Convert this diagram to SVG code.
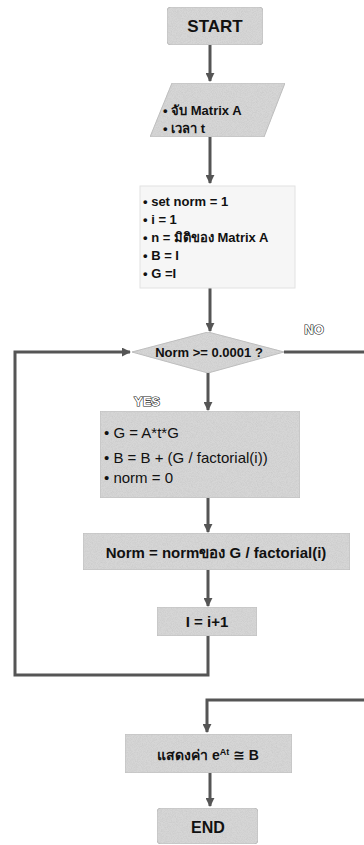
<svg xmlns="http://www.w3.org/2000/svg" width="364" height="845" viewBox="0 0 364 845">
<defs>
<marker id="ah" viewBox="0 0 10 10" refX="9" refY="5" markerWidth="3" markerHeight="3" orient="auto" markerUnits="strokeWidth">
<path d="M0,0 L10,5 L0,10 z" fill="#555"/>
</marker>
<filter id="grain" x="0" y="0" width="1" height="1">
<feTurbulence type="fractalNoise" baseFrequency="1.2" numOctaves="1" seed="3" result="n"/>
<feColorMatrix in="n" type="matrix" values="0 0 0 0 0.55  0 0 0 0 0.55  0 0 0 0 0.55  0 0 0 1.4 -0.55" result="g"/>
<feComposite in="g" in2="SourceGraphic" operator="in" result="gg"/>
<feMerge><feMergeNode in="SourceGraphic"/><feMergeNode in="gg"/></feMerge>
</filter>
</defs>
<style>
.box{fill:#d6d6d6;stroke:#bdbdbd;stroke-width:1}
.light{fill:#f6f6f6;stroke:#e2e2e2;stroke-width:1}
.t{font-family:"Liberation Sans","DejaVu Sans","Noto Sans",sans-serif;fill:#111}
.b{font-weight:bold}
.c{text-anchor:middle}
.ln{fill:none;stroke:#555;stroke-width:3}
.out{font-family:"Liberation Sans","DejaVu Sans",sans-serif;font-weight:bold;fill:#fff;stroke:#222;stroke-width:1.2;paint-order:stroke}
</style>
<rect width="364" height="845" fill="#fff"/>

<g id="connectors">
<line class="ln" x1="210" y1="45" x2="210" y2="81" marker-end="url(#ah)"/>
<line class="ln" x1="210" y1="137" x2="210" y2="183" marker-end="url(#ah)"/>
<line class="ln" x1="210" y1="288" x2="210" y2="331" marker-end="url(#ah)"/>
<line class="ln" x1="208" y1="373" x2="208" y2="410" marker-end="url(#ah)"/>
<line class="ln" x1="208" y1="498" x2="208" y2="532" marker-end="url(#ah)"/>
<line class="ln" x1="208" y1="570" x2="208" y2="606" marker-end="url(#ah)"/>
<polyline class="ln" points="208,636 208,675 15,675 15,352 130,352" marker-end="url(#ah)"/>
<line class="ln" x1="284" y1="352" x2="364" y2="352"/>
<polyline class="ln" points="364,700 207,700 207,732" marker-end="url(#ah)"/>
<line class="ln" x1="210" y1="773" x2="210" y2="806" marker-end="url(#ah)"/>
</g>

<g id="start">
<rect x="167" y="7" width="96" height="38" rx="4" class="box" stroke="#999" filter="url(#grain)"/>
<text x="215" y="32" class="t b c" font-size="17">START</text>
</g>

<g id="input">
<polygon points="172,83 285,83 264,137 150,137" class="box" filter="url(#grain)"/>
<text x="163" y="115" class="t b" font-size="13">• จับ Matrix A</text>
<text x="163" y="133" class="t b" font-size="13">• เวลา t</text>
</g>

<g id="init">
<rect x="140" y="186" width="155" height="102" class="light"/>
<text x="143" y="206" class="t b" font-size="13">• set norm = 1</text>
<text x="143" y="224" class="t b" font-size="13">• i = 1</text>
<text x="143" y="242" class="t b" font-size="13">• n = มิติของ Matrix A</text>
<text x="143" y="260" class="t b" font-size="13">• B = I</text>
<text x="143" y="278" class="t b" font-size="13">• G =I</text>
</g>

<g id="decision">
<polygon points="208,332 284,352 208,373 132,352" class="box" filter="url(#grain)"/>
<text x="209" y="357" class="t b c" font-size="13">Norm &gt;= 0.0001 ?</text>
</g>
<text x="314" y="334" class="out c" font-size="13">NO</text>
<text x="147" y="406" class="out c" font-size="13">YES</text>

<g id="update">
<rect x="100" y="411" width="200" height="87" class="box" filter="url(#grain)"/>
<text x="104" y="438" class="t" font-size="15">• G = A*t*G</text>
<text x="104" y="463" class="t" font-size="15">• B = B + (G / factorial(i))</text>
<text x="104" y="483" class="t" font-size="15">• norm = 0</text>
</g>

<g id="norm">
<rect x="83" y="533" width="267" height="37" class="box" filter="url(#grain)"/>
<text x="216" y="558" class="t b c" font-size="15">Norm = normของ G / factorial(i)</text>
</g>

<g id="incr">
<rect x="157" y="607" width="100" height="29" class="box" filter="url(#grain)"/>
<text x="207" y="627" class="t b c" font-size="15">I = i+1</text>
</g>

<g id="output">
<rect x="125" y="734" width="167" height="39" class="box" filter="url(#grain)"/>
<text x="208" y="760" class="t b c" font-size="14">แสดงค่า e<tspan dy="-5" font-size="9">At</tspan><tspan dy="5"> ≅ B</tspan></text>
</g>

<g id="end">
<rect x="157" y="808" width="101" height="36" rx="4" class="box" filter="url(#grain)"/>
<text x="208" y="833" class="t b c" font-size="16">END</text>
</g>
</svg>
